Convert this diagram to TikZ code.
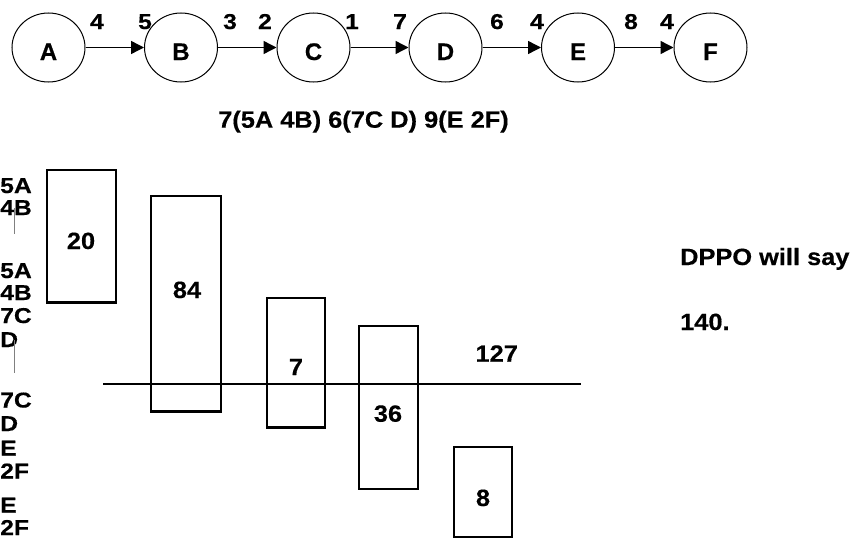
\documentclass[tikz,border=0pt]{standalone}
\usepackage{fontspec}
\setmainfont{Liberation Sans}[FakeBold=0.4]
\newfontfamily\fwide{Liberation Sans}[FakeStretch=1.08,FakeBold=0.4]
\newfontfamily\fwider{Liberation Sans}[FakeStretch=1.15,FakeBold=0.4]
\usetikzlibrary{arrows.meta,shapes.geometric}
\begin{document}
\begin{tikzpicture}[x=1pt,y=-1pt,
  circ/.style={draw, line width=1pt, ellipse, minimum width=73pt, minimum height=69pt, inner sep=0pt,
    text height=25pt, text depth=0pt, font=\bfseries\fontsize{24}{24}\selectfont},
  arr/.style={line width=1.4pt, -{Triangle[length=13pt,width=13pt]}},
  elab/.style={anchor=base, inner sep=0pt, font=\fwider\bfseries\fontsize{21.5}{21.5}\selectfont},
  llab/.style={anchor=base west, inner sep=0pt, font=\fwider\bfseries\fontsize{21.5}{21.5}\selectfont},
  big/.style={anchor=base, inner sep=0pt, font=\fwide\bfseries\fontsize{23.5}{23.5}\selectfont},
  bigl/.style={anchor=base west, inner sep=0pt, font=\fwide\bfseries\fontsize{23.5}{23.5}\selectfont},
  bar/.style={draw, line width=2.2pt},
  cursor/.style={draw=gray, line width=1pt}
]
\useasboundingbox (0,0) rectangle (854,538);
% circles
\node[circ] (A) at (48.5,47.5) {A};
\node[circ] (B) at (181,47.5) {B};
\node[circ] (C) at (313.5,47.5) {C};
\node[circ] (D) at (445.5,47.5) {D};
\node[circ] (E) at (578,47.5) {E};
\node[circ] (F) at (710.5,47.5) {F};
\draw[arr] (A) -- (B);
\draw[arr] (B) -- (C);
\draw[arr] (C) -- (D);
\draw[arr] (D) -- (E);
\draw[arr] (E) -- (F);
% edge labels
\node[elab] (l1) at (97,29) {4};
\node[elab] (l2) at (145,29) {5};
\node[elab] (l3) at (230,29) {3};
\node[elab] (l4) at (265,29) {2};
\node[elab] (l5) at (352,29) {1};
\node[elab] (l6) at (400,29) {7};
\node[elab] (l7) at (497,29) {6};
\node[elab] (l8) at (537,29) {4};
\node[elab] (l9) at (631,29) {8};
\node[elab] (l10) at (667,29) {4};
% title
\node[big] (title) at (363.5,127.7) {7(5A 4B) 6(7C D) 9(E 2F)};
% left labels
\node[llab] (s1) at (0,193) {5A};
\node[llab] (s2) at (0,215) {4B};
\node[llab] (s3) at (0,278) {5A};
\node[llab] (s4) at (0,300) {4B};
\node[llab] (s5) at (0,323) {7C};
\node[llab] (s6) at (0,347) {D};
\node[llab] (s7) at (0,407.5) {7C};
\node[llab] (s8) at (0,431) {D};
\node[llab] (s9) at (0,455.5) {E};
\node[llab] (s10) at (0,478.5) {2F};
\node[llab] (s11) at (0,512.5) {E};
\node[llab] (s12) at (0,535) {2F};
\draw[cursor] (14.5,208) -- (14.5,234);
\draw[cursor] (14.5,340) -- (14.5,373);
% boxes
\draw[bar] (46.7,170) rectangle (116,302.5);
\draw[bar] (151,195.7) rectangle (221,411.5);
\draw[bar] (266.7,298) rectangle (325,427.5);
\draw[bar] (359,326) rectangle (417.7,489);
\draw[bar] (454,446.7) rectangle (511.7,536.7);
\draw[bar] (103,384.3) -- (580.7,384.3);
% box texts
\node[big] (t20) at (81,249) {20};
\node[big] (t84) at (187,298) {84};
\node[big] (t7) at (296,375) {7};
\node[big] (t127) at (496.7,361.7) {127};
\node[big] (t36) at (388,421.7) {36};
\node[big] (t8) at (483,506) {8};
% right text
\node[bigl] (dppo) at (680,265) {DPPO will say};
\node[bigl] (v140) at (680,330) {140.};
\end{tikzpicture}
\end{document}
